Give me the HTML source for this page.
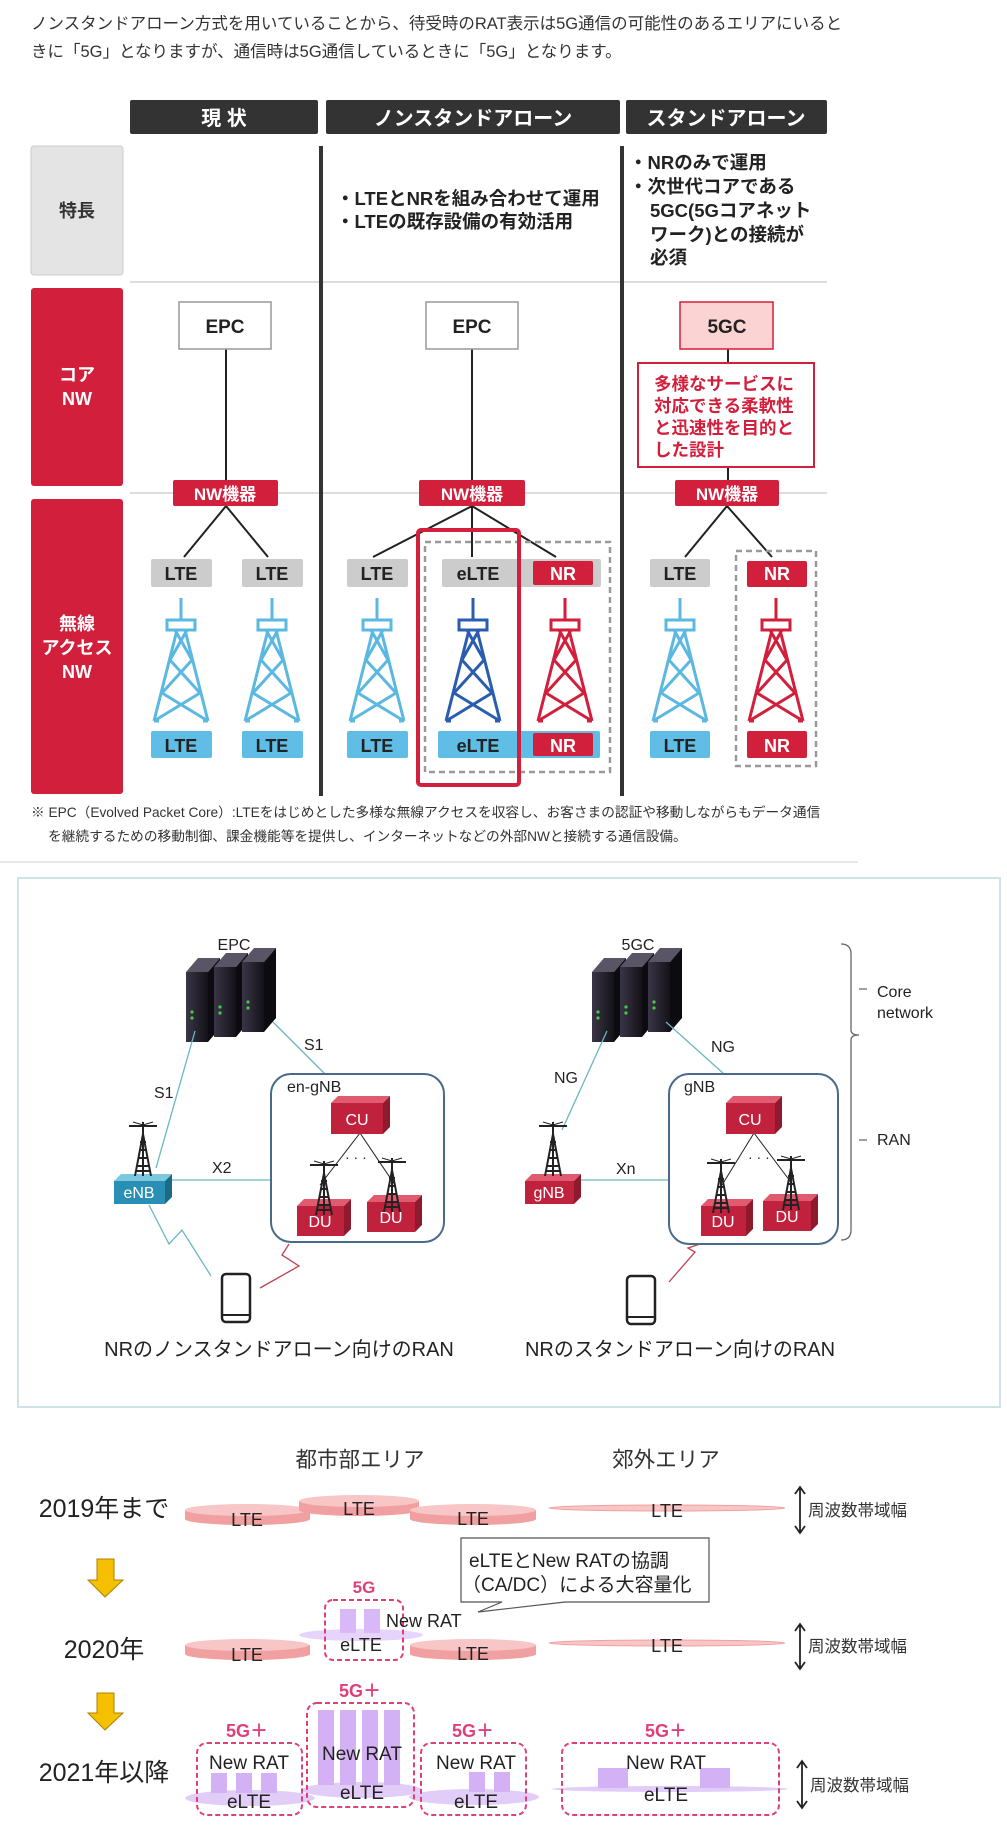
<!DOCTYPE html>
<html><head><meta charset="utf-8"><style>
html,body{margin:0;padding:0;background:#fff;width:1007px;height:1841px;overflow:hidden}
svg{display:block}
text{font-family:"Liberation Sans","Noto Sans CJK JP",sans-serif}
</style></head><body>
<svg width="1007" height="1841" viewBox="0 0 1007 1841" xmlns="http://www.w3.org/2000/svg">
<defs>
<g id="tw"><path d="M0,0V22M-4,32L-27,123M4,32L27,123M-6,32L11,62M6,32L-11,62M-11,62L19,95M11,62L-19,95M-19,95L27,123M19,95L-27,123M-27,123H-22M22,123H27" fill="none" stroke-width="3"/><rect x="-14" y="22" width="28" height="10" fill="none" stroke-width="3"/></g>
<g id="ant"><path d="M-14,0L14,0M0,-4V50M-8,50L0,8L8,50M-6,40H6M-5,32H5M-4,24H4M-3,16H3M-7,45H7" stroke="#222" stroke-width="2" fill="none"/><path d="M-10,-4L0,-1L10,-4" stroke="#222" fill="none"/></g>
<linearGradient id="srv" x1="0" x2="1"><stop offset="0" stop-color="#3a3546"/><stop offset="1" stop-color="#141218"/></linearGradient>
<g id="server"><path d="M0,14L12,0H34L22,14Z" fill="#5a5566"/><rect x="0" y="14" width="22" height="70" fill="url(#srv)"/><path d="M22,14L34,0V70L22,84Z" fill="#0c0b10"/><circle cx="6" cy="54" r="1.6" fill="#4c4"/><circle cx="6" cy="60" r="1.6" fill="#4c4"/></g>
<g id="stack"><use href="#server" x="0" y="10"/><use href="#server" x="28" y="5"/><use href="#server" x="56" y="0"/></g>
</defs>

<!-- Section 1 -->
<text x="31" y="29" font-size="16.5" fill="#333">ノンスタンドアローン方式を用いていることから、待受時のRAT表示は5G通信の可能性のあるエリアにいると</text>
<text x="31" y="57" font-size="16.5" fill="#333">きに「5G」となりますが、通信時は5G通信しているときに「5G」となります。</text>

<rect x="130" y="100" width="188" height="34" rx="2" fill="#333"/>
<rect x="326" y="100" width="294" height="34" rx="2" fill="#333"/>
<rect x="626" y="100" width="201" height="34" rx="2" fill="#333"/>
<text x="224" y="125" font-size="20" font-weight="bold" fill="#fff" text-anchor="middle">現 状</text>
<text x="473" y="125" font-size="20" font-weight="bold" fill="#fff" text-anchor="middle">ノンスタンドアローン</text>
<text x="726" y="125" font-size="20" font-weight="bold" fill="#fff" text-anchor="middle">スタンドアローン</text>

<rect x="31" y="146" width="92" height="129" rx="3" fill="#e4e4e4" stroke="#ccc"/>
<text x="77" y="217" font-size="18" font-weight="bold" fill="#333" text-anchor="middle">特長</text>
<line x1="130" y1="282" x2="827" y2="282" stroke="#ddd" stroke-width="2"/>
<line x1="130" y1="493" x2="827" y2="493" stroke="#ddd" stroke-width="2"/>
<rect x="31" y="288" width="92" height="198" rx="3" fill="#d21f3c"/>
<text x="77" y="381" font-size="18" font-weight="bold" fill="#fff" text-anchor="middle">コア</text>
<text x="77" y="405" font-size="18" font-weight="bold" fill="#fff" text-anchor="middle">NW</text>
<rect x="31" y="499" width="92" height="295" rx="3" fill="#d21f3c"/>
<text x="77" y="630" font-size="18" font-weight="bold" fill="#fff" text-anchor="middle">無線</text>
<text x="77" y="654" font-size="18" font-weight="bold" fill="#fff" text-anchor="middle">アクセス</text>
<text x="77" y="678" font-size="18" font-weight="bold" fill="#fff" text-anchor="middle">NW</text>

<line x1="321" y1="146" x2="321" y2="796" stroke="#333" stroke-width="4"/>
<line x1="622" y1="146" x2="622" y2="796" stroke="#333" stroke-width="4"/>

<g font-size="18.5" font-weight="bold" fill="#222">
<text x="336" y="205">・LTEとNRを組み合わせて運用</text>
<text x="336" y="228">・LTEの既存設備の有効活用</text>
</g>
<g font-size="18.5" font-weight="bold" fill="#222">
<text x="629" y="169">・NRのみで運用</text>
<text x="629" y="193">・次世代コアである</text>
<text x="650" y="217">5GC(5Gコアネット</text>
<text x="650" y="241">ワーク)との接続が</text>
<text x="650" y="264">必須</text>
</g>

<g stroke="#222" stroke-width="2">
<line x1="226" y1="349" x2="226" y2="480"/>
<line x1="472" y1="349" x2="472" y2="480"/>
<line x1="728" y1="349" x2="728" y2="480"/>
<path d="M226,506L184,557M226,506L268,557M472,506L373,557M472,506L472,557M472,506L556,557M727,506L685,557M727,506L772,557" fill="none"/>
</g>
<rect x="179" y="302" width="92" height="47" fill="#fff" stroke="#999" stroke-width="1.5"/>
<rect x="426" y="302" width="92" height="47" fill="#fff" stroke="#999" stroke-width="1.5"/>
<rect x="680" y="302" width="93" height="47" fill="#fcd3d3" stroke="#d21f3c" stroke-width="1.5"/>
<text x="225" y="333" font-size="19" font-weight="bold" text-anchor="middle" fill="#222">EPC</text>
<text x="472" y="333" font-size="19" font-weight="bold" text-anchor="middle" fill="#222">EPC</text>
<text x="727" y="333" font-size="19" font-weight="bold" text-anchor="middle" fill="#222">5GC</text>
<rect x="638" y="363" width="176" height="104" fill="#fff" stroke="#d21f3c" stroke-width="2"/>
<g font-size="17.5" font-weight="bold" fill="#d21f3c">
<text x="654" y="390">多様なサービスに</text>
<text x="654" y="412">対応できる柔軟性</text>
<text x="654" y="434">と迅速性を目的と</text>
<text x="654" y="456">した設計</text>
</g>
<g fill="#d21f3c"><rect x="173" y="480" width="105" height="26" rx="2"/><rect x="419" y="480" width="106" height="26" rx="2"/><rect x="675" y="480" width="104" height="26" rx="2"/></g>
<g font-size="17" font-weight="bold" fill="#fff" text-anchor="middle"><text x="225" y="500">NW機器</text><text x="472" y="500">NW機器</text><text x="727" y="500">NW機器</text></g>

<g fill="#ccc"><rect x="151" y="559" width="61" height="28" rx="2"/><rect x="242" y="559" width="61" height="28" rx="2"/><rect x="347" y="559" width="61" height="28" rx="2"/><rect x="442" y="559" width="159" height="28" rx="2"/><rect x="650" y="559" width="60" height="28" rx="2"/></g>
<g fill="#d21f3c"><rect x="533" y="561" width="60" height="24" rx="2"/><rect x="747" y="561" width="60" height="26" rx="2"/></g>
<g fill="#5fbde6"><rect x="151" y="731" width="61" height="27" rx="2"/><rect x="242" y="731" width="61" height="27" rx="2"/><rect x="347" y="731" width="61" height="27" rx="2"/><rect x="438" y="731" width="162" height="27" rx="2"/><rect x="650" y="731" width="60" height="27" rx="2"/></g>
<g fill="#d21f3c"><rect x="533" y="733" width="60" height="23" rx="2"/><rect x="747" y="731" width="60" height="27" rx="2"/></g>
<g font-size="18" font-weight="bold" text-anchor="middle" fill="#222">
<text x="181" y="580">LTE</text><text x="272" y="580">LTE</text><text x="377" y="580">LTE</text><text x="478" y="580">eLTE</text><text x="680" y="580">LTE</text>
<text x="181" y="752">LTE</text><text x="272" y="752">LTE</text><text x="377" y="752">LTE</text><text x="478" y="752">eLTE</text><text x="680" y="752">LTE</text>
</g>
<g font-size="18" font-weight="bold" text-anchor="middle" fill="#fff"><text x="563" y="580">NR</text><text x="777" y="580">NR</text><text x="563" y="752">NR</text><text x="777" y="752">NR</text></g>

<use href="#tw" x="181" y="598" stroke="#5bb8e0"/>
<use href="#tw" x="272" y="598" stroke="#5bb8e0"/>
<use href="#tw" x="377" y="598" stroke="#5bb8e0"/>
<use href="#tw" x="473" y="598" stroke="#2a5db0"/>
<use href="#tw" x="565" y="598" stroke="#d21f3c"/>
<use href="#tw" x="680" y="598" stroke="#5bb8e0"/>
<use href="#tw" x="776" y="598" stroke="#d21f3c"/>

<rect x="425" y="542" width="185" height="230" fill="none" stroke="#999" stroke-width="2.5" stroke-dasharray="6,4"/>
<rect x="736" y="551" width="80" height="215" fill="none" stroke="#999" stroke-width="2.5" stroke-dasharray="6,4"/>
<rect x="418" y="530" width="101" height="255" rx="3" fill="none" stroke="#d21f3c" stroke-width="4"/>

<text x="31" y="817" font-size="13.7" fill="#333">※ EPC（Evolved Packet Core）:LTEをはじめとした多様な無線アクセスを収容し、お客さまの認証や移動しながらもデータ通信</text>
<text x="48" y="841" font-size="13.7" fill="#333">を継続するための移動制御、課金機能等を提供し、インターネットなどの外部NWと接続する通信設備。</text>
<line x1="0" y1="862" x2="858" y2="862" stroke="#ddd" stroke-width="1.5"/>

<!-- Section 2 -->
<rect x="18" y="878" width="982" height="529" fill="#fff" stroke="#cde3e6" stroke-width="2"/>
<text x="234" y="950" font-size="16" text-anchor="middle" fill="#222">EPC</text>
<text x="638" y="950" font-size="16" text-anchor="middle" fill="#222">5GC</text>
<use href="#stack" x="186" y="948"/>
<use href="#stack" x="592" y="948"/>
<g stroke="#6bb6c4" stroke-width="1.3" fill="none">
<path d="M195,1031L156,1168"/><path d="M273,1022L325,1074"/>
<path d="M172,1180H271"/>
<path d="M607,1031L562,1130"/><path d="M666,1022L724,1074"/>
<path d="M581,1180H669"/>
<path d="M149,1205L169,1244L182,1230L211,1276"/>
</g>
<path d="M260,1288L299,1266L282,1255L289,1244" stroke="#c04050" stroke-width="1.3" fill="none"/>
<path d="M669,1282L695,1252L688,1248L700,1244" stroke="#c04050" stroke-width="1.3" fill="none"/>
<g font-size="16" fill="#222">
<text x="154" y="1098">S1</text><text x="304" y="1050">S1</text>
<text x="212" y="1173">X2</text>
<text x="554" y="1083">NG</text><text x="711" y="1052">NG</text>
<text x="616" y="1174">Xn</text>
<text x="287" y="1092">en-gNB</text><text x="684" y="1092">gNB</text>
<text x="877" y="997">Core</text><text x="877" y="1018">network</text>
<text x="877" y="1145">RAN</text>
</g>
<path d="M841,944Q851,944 851,954V1030Q851,1035 859,1035Q851,1035 851,1040V1230Q851,1240 841,1240M859,989H867M859,1140H867" stroke="#666" stroke-width="1.3" fill="none"/>
<rect x="271" y="1074" width="173" height="168" rx="20" fill="none" stroke="#4a6a8a" stroke-width="2"/>
<rect x="669" y="1074" width="169" height="170" rx="20" fill="none" stroke="#4a6a8a" stroke-width="2"/>
<g stroke="#222" stroke-width="1"><path d="M360,1133L320,1185M360,1133L395,1185"/><path d="M754,1133L722,1185M754,1133L793,1185"/></g>
<g font-size="14" fill="#222"><text x="345" y="1162">· · ·</text><text x="748" y="1162">· · ·</text></g>
<g>
<path d="M331,1103L338,1096H390L383,1103Z" fill="#e05a70"/><rect x="331" y="1103" width="52" height="31" fill="#c0223e"/><path d="M383,1103L390,1096V1127L383,1134Z" fill="#8e1a2e"/>
<path d="M726,1103L733,1096H782L775,1103Z" fill="#e05a70"/><rect x="726" y="1103" width="49" height="31" fill="#c0223e"/><path d="M775,1103L782,1096V1127L775,1134Z" fill="#8e1a2e"/>
<path d="M297,1206L304,1199H351L344,1206Z" fill="#e05a70"/><rect x="297" y="1206" width="47" height="30" fill="#c0223e"/><path d="M344,1206L351,1199V1229L344,1236Z" fill="#8e1a2e"/>
<path d="M367,1202L374,1195H422L415,1202Z" fill="#e05a70"/><rect x="367" y="1202" width="48" height="30" fill="#c0223e"/><path d="M415,1202L422,1195V1225L415,1232Z" fill="#8e1a2e"/>
<path d="M701,1206L708,1199H753L746,1206Z" fill="#e05a70"/><rect x="701" y="1206" width="45" height="30" fill="#c0223e"/><path d="M746,1206L753,1199V1229L746,1236Z" fill="#8e1a2e"/>
<path d="M763,1201L770,1194H818L811,1201Z" fill="#e05a70"/><rect x="763" y="1201" width="48" height="30" fill="#c0223e"/><path d="M811,1201L818,1194V1224L811,1231Z" fill="#8e1a2e"/>
<path d="M114,1181L121,1174H172L165,1181Z" fill="#7cc8de"/><rect x="114" y="1181" width="51" height="23" fill="#2a8fb5"/><path d="M165,1181L172,1174V1197L165,1204Z" fill="#1c6a88"/>
<path d="M525,1181L532,1174H581L574,1181Z" fill="#e05a70"/><rect x="525" y="1181" width="49" height="23" fill="#c0223e"/><path d="M574,1181L581,1174V1197L574,1204Z" fill="#8e1a2e"/>
</g>
<g font-size="16" fill="#fff" text-anchor="middle">
<text x="357" y="1125">CU</text><text x="750" y="1125">CU</text>
<text x="320" y="1227">DU</text><text x="391" y="1223">DU</text><text x="723" y="1227">DU</text><text x="787" y="1222">DU</text>
<text x="139" y="1198">eNB</text><text x="549" y="1198">gNB</text>
</g>
<use href="#ant" x="143" y="1126"/><use href="#ant" x="553" y="1126"/>
<use href="#ant" x="324" y="1165"/><use href="#ant" x="392" y="1162"/>
<use href="#ant" x="721" y="1163"/><use href="#ant" x="791" y="1160"/>
<g><rect x="222" y="1274" width="28" height="48" rx="4" fill="none" stroke="#222" stroke-width="2.5"/><line x1="222" y1="1315" x2="250" y2="1315" stroke="#222" stroke-width="2"/></g>
<g><rect x="627" y="1276" width="28" height="48" rx="4" fill="none" stroke="#222" stroke-width="2.5"/><line x1="627" y1="1317" x2="655" y2="1317" stroke="#222" stroke-width="2"/></g>
<text x="279" y="1356" font-size="20" text-anchor="middle" fill="#222">NRのノンスタンドアローン向けのRAN</text>
<text x="680" y="1356" font-size="20" text-anchor="middle" fill="#222">NRのスタンドアローン向けのRAN</text>

<!-- Section 3 -->
<g font-size="21.5" fill="#333" text-anchor="middle"><text x="360" y="1467">都市部エリア</text><text x="666" y="1467">郊外エリア</text></g>
<g font-size="25" fill="#222" text-anchor="middle"><text x="104" y="1517">2019年まで</text><text x="104" y="1658">2020年</text><text x="104" y="1781">2021年以降</text></g>
<g fill="#f0a0a0">
<path d="M185,1510V1519A62,6 0 0 0 310,1519V1510Z"/><ellipse cx="247" cy="1510" rx="62" ry="6" fill="#f8c6c6"/>
<path d="M299,1501V1510A60,6 0 0 0 419,1510V1501Z"/><ellipse cx="359" cy="1501" rx="60" ry="6" fill="#f8c6c6"/>
<path d="M410,1510V1519A63,6 0 0 0 536,1519V1510Z"/><ellipse cx="473" cy="1510" rx="63" ry="6" fill="#f8c6c6"/>
<ellipse cx="667" cy="1508" rx="118" ry="3" fill="#f8c6c6" stroke="#f0a0a0"/>
<path d="M185,1645V1654A62,6 0 0 0 310,1654V1645Z"/><ellipse cx="247" cy="1645" rx="62" ry="6" fill="#f8c6c6"/>
<path d="M410,1645V1654A63,6 0 0 0 536,1654V1645Z"/><ellipse cx="473" cy="1645" rx="63" ry="6" fill="#f8c6c6"/>
<ellipse cx="667" cy="1643" rx="118" ry="3" fill="#f8c6c6" stroke="#f0a0a0"/>
</g>
<g font-size="18" fill="#222" text-anchor="middle">
<text x="247" y="1526">LTE</text><text x="359" y="1515">LTE</text><text x="473" y="1525">LTE</text><text x="667" y="1517">LTE</text>
<text x="247" y="1661">LTE</text><text x="473" y="1660">LTE</text><text x="667" y="1652">LTE</text>
</g>
<g stroke="#222" stroke-width="1.8" fill="none">
<path d="M800,1488V1532M795,1494L800,1487L805,1494M795,1526L800,1533L805,1526"/>
<path d="M800,1625V1668M795,1631L800,1624L805,1631M795,1662L800,1669L805,1662"/>
<path d="M802,1762V1807M797,1768L802,1761L807,1768M797,1801L802,1808L807,1801"/>
</g>
<g font-size="16.5" fill="#333"><text x="808" y="1516">周波数帯域幅</text><text x="808" y="1652">周波数帯域幅</text><text x="810" y="1791">周波数帯域幅</text></g>
<g fill="#f5c000" stroke="#b08000" stroke-width="1"><path d="M97,1559H114V1580H123L105,1597L88,1580H97Z"/><path d="M97,1693H114V1713H123L105,1730L88,1713H97Z"/></g>
<path d="M461,1538H709V1602H565L478,1612L502,1602H461Z" fill="#fff" stroke="#555" stroke-width="1.2"/>
<text x="469" y="1567" font-size="19" fill="#222">eLTEとNew RATの協調</text>
<text x="462" y="1591" font-size="19" fill="#222">（CA/DC）による大容量化</text>
<ellipse cx="361" cy="1635" rx="62" ry="6" fill="#e7d4fa"/>
<g fill="#d8b8f6"><rect x="340" y="1609" width="16" height="24"/><rect x="364" y="1609" width="16" height="24"/></g>
<text x="364" y="1593" font-size="17" font-weight="bold" fill="#e0407a" text-anchor="middle">5G</text>
<rect x="325" y="1600" width="78" height="60" rx="8" fill="none" stroke="#e0407a" stroke-width="2" stroke-dasharray="5,3"/>
<text x="386" y="1627" font-size="18" fill="#222">New RAT</text>
<text x="361" y="1651" font-size="18" fill="#222" text-anchor="middle">eLTE</text>
<g fill="#e2cdf8">
<ellipse cx="250" cy="1798" rx="65" ry="8"/><ellipse cx="362" cy="1790" rx="60" ry="8"/><ellipse cx="474" cy="1797" rx="65" ry="8"/><ellipse cx="670" cy="1789" rx="118" ry="3"/>
</g>
<g fill="#d4b0f4">
<rect x="211" y="1773" width="16" height="20"/><rect x="236" y="1773" width="16" height="20"/><rect x="261" y="1773" width="16" height="20"/>
<rect x="318" y="1710" width="16" height="75"/><rect x="340" y="1710" width="16" height="75"/><rect x="362" y="1710" width="16" height="75"/><rect x="384" y="1710" width="16" height="75"/>
<rect x="469" y="1772" width="16" height="20"/><rect x="494" y="1772" width="16" height="20"/>
<rect x="598" y="1768" width="30" height="20"/><rect x="700" y="1768" width="30" height="20"/>
</g>
<g fill="none" stroke="#e0407a" stroke-width="2" stroke-dasharray="5,3">
<rect x="197" y="1743" width="105" height="72" rx="10"/>
<rect x="307" y="1703" width="107" height="104" rx="10"/>
<rect x="421" y="1743" width="105" height="72" rx="10"/>
<rect x="562" y="1743" width="217" height="72" rx="10"/>
</g>
<g font-size="18" font-weight="bold" fill="#e0407a" text-anchor="middle">
<text x="247" y="1737">5G＋</text><text x="360" y="1697">5G＋</text><text x="473" y="1737">5G＋</text><text x="666" y="1737">5G＋</text>
</g>
<g font-size="19" fill="#222" text-anchor="middle">
<text x="249" y="1769">New RAT</text><text x="249" y="1808">eLTE</text>
<text x="362" y="1760">New RAT</text><text x="362" y="1799">eLTE</text>
<text x="476" y="1769">New RAT</text><text x="476" y="1808">eLTE</text>
<text x="666" y="1769">New RAT</text><text x="666" y="1801">eLTE</text>
</g>
</svg>
</body></html>
